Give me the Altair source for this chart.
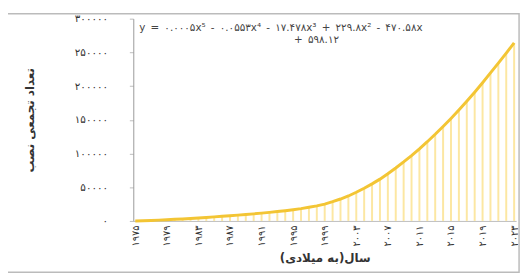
import altair as alt
import pandas as pd

years = list(range(1975, 2024))
installs = [0, 300, 700, 1200, 1800, 2400, 3000, 3700, 4400, 5200,
            6000, 6800, 7700, 8600, 9500, 10500, 11600, 12700, 13900, 15200,
            16700, 18300, 20200, 22300, 25000, 28500, 32500, 37000, 42500, 48500,
            55000, 62000, 70000, 78500, 87500, 97000, 107000, 117500, 128500, 140000,
            152000, 164500, 177500, 191000, 205000, 219500, 234000, 249000, 264000]
tick_years = [1975, 1979, 1983, 1987, 1991, 1995, 1999, 2003, 2007, 2011, 2015, 2019, 2023]
y_ticks = [0, 50000, 100000, 150000, 200000, 250000, 300000]
y_labels = ["۰", "۵۰۰۰۰", "۱۰۰۰۰۰", "۱۵۰۰۰۰", "۲۰۰۰۰۰", "۲۵۰۰۰۰", "۳۰۰۰۰۰"]
eq_line1 = ["y\u2002=\u2002۰.۰۰۰۵x⁵\u2002-\u2002۰.۰۵۵۳x⁴\u2002-\u2002۱۷.۴۷۸x³\u2002+\u2002۲۲۹.۸x²\u2002-\u2002۴۷۰.۵۸x"]
eq_line2 = ["+\u2002۵۹۸.۱۲"]
x_title = "سال(به میلادی)"
y_title = "تعداد تجمعی نصب"

fa = str.maketrans("0123456789", "۰۱۲۳۴۵۶۷۸۹")
year_labels = [str(y).translate(fa) for y in years]
tick_labels = [str(y).translate(fa) for y in tick_years]

df = pd.DataFrame({"year": year_labels, "value": installs})

FONT = "DejaVu Sans"
xenc = alt.X("year:O", sort=year_labels,
             scale=alt.Scale(type="point", padding=0.25),
             axis=alt.Axis(values=tick_labels, labelAngle=270, labelFontSize=10,
                           labelColor="#333333", ticks=False, domainColor="#bdbdbd",
                           labelOverlap=False,
                           title=x_title, titleFontSize=12, titleFontWeight="bold",
                           titleColor="#333333", labelPadding=4, titlePadding=7,
                           labelFont=FONT, titleFont=FONT))
yscale = alt.Scale(domain=[0, 300000], nice=False)
yaxis = alt.Axis(values=y_ticks,
                 labelExpr="%s[round(datum.value/50000)]" % str(y_labels),
                 labelFontSize=10.5, labelColor="#333333", grid=False,
                 labelOverlap=False, labelBound=False,
                 ticks=True, tickSize=4, tickColor="#bdbdbd", domainColor="#999999",
                 labelPadding=22, title=y_title, titleFontSize=12,
                 titleFontWeight="bold", titleColor="#333333", titlePadding=38,
                 labelFont=FONT, titleFont=FONT)
yenc = alt.Y("value:Q", scale=yscale, axis=yaxis)

base = alt.Chart(df)
bars = base.mark_bar(size=2, color="#FCE7A2").encode(x=xenc, y=yenc)
line = base.mark_line(color="#F3C534", strokeWidth=3).encode(x=xenc, y=yenc)

eq1 = alt.Chart(pd.DataFrame({"t": eq_line1})).mark_text(
    font=FONT, fontSize=10.5, color="#444444", align="left", baseline="middle").encode(
    text="t:N", x=alt.value(6), y=alt.value(9))
eq2 = alt.Chart(pd.DataFrame({"t": eq_line2})).mark_text(
    font=FONT, fontSize=10.5, color="#444444", align="left", baseline="middle").encode(
    text="t:N", x=alt.value(163), y=alt.value(22))

frame = alt.Chart(pd.DataFrame({"a": [0]})).mark_rect(
    filled=False, color="#bbbbbb", strokeWidth=1.5).encode(
    x=alt.value(-128), x2=alt.value(391), y=alt.value(-5), y2=alt.value(257))

chart = alt.layer(frame, bars, line, eq1, eq2).properties(
    width=388, height=205,
    padding={"left": 127, "top": 9, "right": 8, "bottom": 54},
    autosize=alt.AutoSizeParams(type="none"),
).configure_view(stroke=None)

chart.save("out.html", embed_options={"renderer": "svg", "actions": False})
